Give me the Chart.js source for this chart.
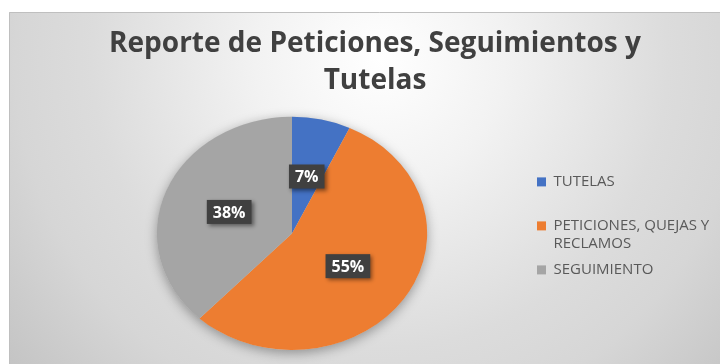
<!DOCTYPE html>
<html>
<head>
<meta charset="utf-8">
<script src="https://cdn.jsdelivr.net/npm/chart.js@4"></script>
<style>
  html, body { margin: 0; padding: 0; overflow: hidden; background: #ffffff; }
  #grafico { position: absolute; left: 0; top: 0; }
</style>
</head>
<body>
<canvas id="grafico" width="750" height="364"></canvas>
<script>
const categorias = ["TUTELAS", "PETICIONES, QUEJAS Y RECLAMOS", "SEGUIMIENTO"];
const lineasLeyenda = [["TUTELAS", ""], ["PETICIONES, QUEJAS Y", "RECLAMOS"], ["SEGUIMIENTO", ""]];
const porcentajes = [7, 55, 38];
const colores = ["#4472c4", "#ed7d31", "#a5a5a5"];
const titulo = ["Reporte de Peticiones, Seguimientos y", "Tutelas"];

// the pie is drawn wider than tall
const ESTIRAR = 1.159;

// grey panel with radial shading behind everything
const fondo = {
    id: "fondo",
    beforeDraw: function(chart){
        const ctx = chart.ctx;
        ctx.save();
        ctx.fillStyle = "#ffffff";
        ctx.fillRect(0, 0, chart.width, chart.height);
        const g = ctx.createRadialGradient(380, 60, 0, 380, 60, 480);
        g.addColorStop(0, "#ffffff");
        g.addColorStop(0.26, "#f2f2f2");
        g.addColorStop(0.6, "#dcdcdc");
        g.addColorStop(0.76, "#d6d6d6");
        g.addColorStop(1, "#c4c4c4");
        ctx.fillStyle = g;
        ctx.fillRect(9, 12, chart.width - 9, chart.height - 12);
        ctx.strokeStyle = "#bfbfbf";
        ctx.lineWidth = 1;
        ctx.beginPath();
        ctx.moveTo(9.5, chart.height);
        ctx.lineTo(9.5, 12.5);
        ctx.lineTo(chart.width, 12.5);
        ctx.stroke();
        ctx.restore();
    },
    // legend text runs past its box, so widen the box it is clipped to
    afterLayout: function(chart){
        chart.legend.right += 40;
        chart.legend.width += 40;
    }
};

// stretch the pie horizontally around its centre, with a soft shadow under it
const elipse = {
    id: "elipse",
    beforeDatasetsDraw: function(chart){
        const arco = chart.getDatasetMeta(0).data[0];
        const ctx = chart.ctx;
        const cx = arco.x, cy = arco.y, r = arco.outerRadius;
        ctx.save();
        ctx.shadowColor = "rgba(0,0,0,0.35)";
        ctx.shadowBlur = 12;
        ctx.shadowOffsetY = 3;
        ctx.fillStyle = "#cfcfcf";
        ctx.beginPath();
        ctx.ellipse(cx, cy, r * ESTIRAR, r, 0, 0, Math.PI * 2);
        ctx.fill();
        ctx.restore();

        ctx.save();
        ctx.translate(cx, 0);
        ctx.scale(ESTIRAR, 1);
        ctx.translate(-cx, 0);
    },
    afterDatasetsDraw: function(chart){
        chart.ctx.restore();
    }
};

// dark boxes with the percentage of each slice
const etiquetas = {
    id: "etiquetas",
    afterDatasetsDraw: function(chart){
        const ctx = chart.ctx;
        const meta = chart.getDatasetMeta(0);
        ctx.save();
        ctx.font = "bold 16px 'Open Sans'";
        ctx.textAlign = "center";
        ctx.textBaseline = "middle";
        meta.data.forEach(function(arco, i){
            const p = arco.getCenterPoint();
            const x = arco.x + (p.x - arco.x) * ESTIRAR;
            const y = p.y;
            const texto = porcentajes[i] + "%";
            const w = ctx.measureText(texto).width + 12;
            const h = 24;
            ctx.save();
            ctx.shadowColor = "rgba(0,0,0,0.45)";
            ctx.shadowBlur = 4;
            ctx.shadowOffsetX = 2;
            ctx.shadowOffsetY = 2;
            ctx.fillStyle = "#404040";
            ctx.fillRect(x - w / 2, y - h / 2, w, h);
            ctx.restore();
            ctx.fillStyle = "#ffffff";
            ctx.fillText(texto, x, y + 1);
        });
        ctx.restore();
    }
};

const datos = {
    labels: categorias,
    datasets: [
        {
            data: porcentajes,
            backgroundColor: colores,
            borderWidth: 0
        }
    ]
};

const config = {
    type: "pie",
    data: datos,
    options: {
        responsive: false,
        animation: false,
        rotation: 0,
        layout: {
            padding: { left: 55, right: 55, top: 0, bottom: 14 }
        },
        plugins: {
            title: {
                display: true,
                text: titulo,
                color: "#404040",
                font: { family: "'Open Sans'", size: 28, weight: "bold", lineHeight: 1.3 },
                padding: { top: 26, bottom: 18 }
            },
            legend: {
                position: "right",
                align: "start",
                maxWidth: 166,
                // empty legend title only keeps the items down beside the pie
                title: {
                    display: true,
                    text: "",
                    font: { size: 12, lineHeight: 1.2 },
                    padding: { top: 152, bottom: 0 }
                },
                labels: {
                    color: "#595959",
                    font: { family: "'Open Sans'", size: 15, lineHeight: 1.2 },
                    boxWidth: 9,
                    boxHeight: 9,
                    padding: 8,
                    generateLabels: function(chart){
                        const items = Chart.overrides.pie.plugins.legend.labels.generateLabels(chart);
                        items.forEach(function(item, i){
                            item.text = lineasLeyenda[i];
                            item.lineWidth = 0;
                        });
                        return items;
                    }
                }
            },
            tooltip: { enabled: false }
        }
    },
    plugins: [fondo, elipse, etiquetas]
};

new Chart(document.getElementById("grafico"), config);
</script>
</body>
</html>
